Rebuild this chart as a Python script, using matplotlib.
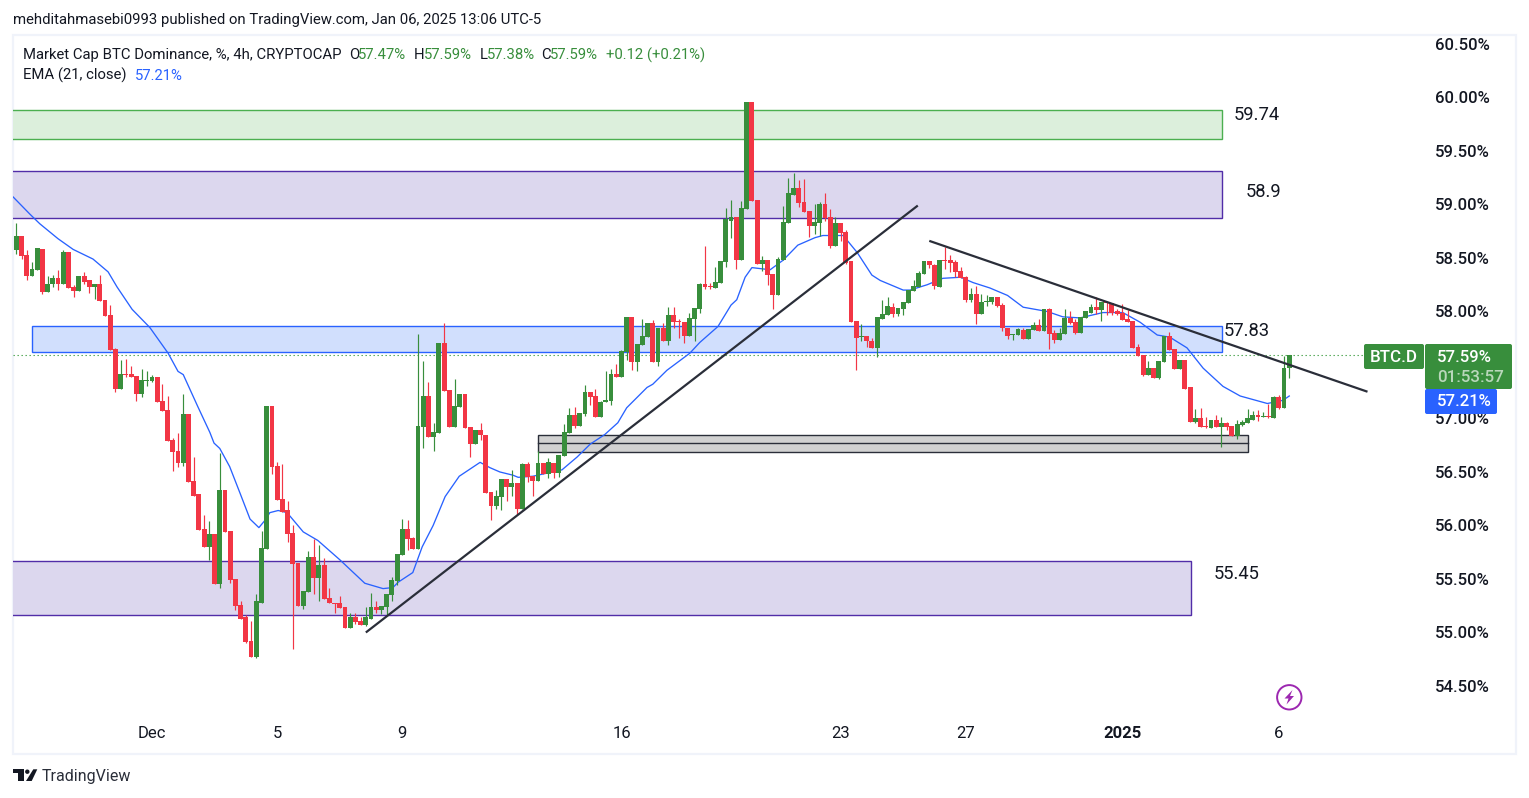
import matplotlib
matplotlib.use("Agg")
import matplotlib.pyplot as plt
from matplotlib.patches import Rectangle, FancyBboxPatch, Polygon, Circle
from matplotlib.transforms import Affine2D

W, H = 1529, 798
plt.rcParams['font.family'] = ['Roboto', 'DejaVu Sans']

opens = [58.57,58.71,58.53,58.33,58.39,58.58,58.18,58.26,58.31,58.26,
58.56,58.23,58.19,58.33,58.29,58.23,58.26,58.11,57.97,57.65,
57.28,57.42,57.42,57.40,57.23,57.35,57.35,57.39,57.16,57.08,
56.80,56.70,56.58,57.04,56.42,56.29,55.97,55.80,55.92,55.45,
56.33,55.95,55.50,55.26,55.14,54.92,54.77,55.28,55.78,57.12,
56.56,56.25,56.14,55.93,55.65,55.25,55.38,55.71,55.51,55.63,
55.32,55.28,55.28,55.24,55.04,55.14,55.11,55.07,55.13,55.24,
55.21,55.24,55.35,55.48,55.72,55.97,55.88,55.78,56.92,57.21,
56.83,56.86,57.71,57.27,56.92,57.11,57.23,56.92,56.76,56.89,
56.85,56.31,56.18,56.27,56.43,56.36,56.40,56.15,56.57,56.46,
56.42,56.58,56.48,56.58,56.49,56.65,56.86,57.03,56.93,57.04,
57.25,57.21,57.01,57.15,57.16,57.42,57.39,57.62,57.95,57.53,
57.69,57.76,57.89,57.53,57.85,57.72,57.97,57.91,57.90,57.77,
57.93,58.02,58.26,58.24,58.22,58.27,58.46,58.85,58.88,58.48,
58.96,59.96,59.04,58.44,58.48,58.35,58.15,58.48,58.83,59.09,
59.15,59.02,58.94,58.80,58.83,59.00,58.88,58.61,58.83,58.74,
58.47,57.91,57.76,57.77,57.72,57.66,57.93,57.97,58.04,57.98,
58.02,58.08,58.19,58.23,58.35,58.47,58.43,58.23,58.48,58.48,
58.46,58.38,58.32,58.11,58.16,57.98,58.09,58.09,58.14,58.06,
57.85,57.78,57.78,57.83,57.74,57.83,57.87,57.82,58.02,57.80,
57.73,57.79,57.94,57.90,57.80,57.94,57.99,58.04,58.01,58.09,
58.08,58.00,57.99,57.93,57.91,57.67,57.59,57.41,57.47,57.38,
57.53,57.77,57.65,57.46,57.55,57.29,56.97,57.00,56.93,56.91,
56.99,56.92,56.96,56.93,56.84,56.94,56.96,56.99,57.03,57.01,
57.02,57.00,57.20,57.10,57.47]
highs = [58.83,58.71,58.57,58.46,58.59,58.58,58.33,58.34,58.39,58.57,
58.56,58.25,58.33,58.37,58.29,58.26,58.34,58.11,58.06,57.66,
57.55,57.56,57.49,57.40,57.46,57.44,57.41,57.39,57.32,57.21,
56.82,56.86,57.23,57.04,56.64,56.29,56.10,56.04,55.92,56.68,
56.33,55.95,55.50,55.29,55.16,55.11,55.36,55.95,57.12,57.12,
56.59,56.57,56.23,56.00,55.65,55.39,55.76,55.87,55.82,55.70,
55.42,55.28,55.34,55.24,55.18,55.18,55.14,55.24,55.37,55.29,
55.25,55.36,55.52,55.73,56.06,56.05,55.89,57.79,57.54,57.34,
56.96,57.71,57.89,57.27,57.37,57.23,57.23,56.92,56.89,56.96,
56.85,56.31,56.33,56.43,56.43,56.52,56.40,56.58,56.59,56.46,
56.70,56.58,56.63,56.58,56.66,56.95,57.10,57.11,57.05,57.31,
57.25,57.28,57.16,57.44,57.46,57.51,57.64,57.95,57.95,57.70,
57.93,57.89,57.92,57.85,57.89,58.04,58.04,57.93,57.90,57.99,
58.03,58.27,58.61,58.27,58.42,58.47,58.97,59.04,58.88,59.03,
59.96,59.96,59.04,58.52,58.48,58.35,58.51,58.99,59.25,59.29,
59.23,59.24,58.94,59.00,59.02,59.11,58.96,58.88,58.83,58.76,
58.47,57.91,57.88,57.77,57.75,57.95,58.11,58.14,58.08,58.03,
58.09,58.20,58.29,58.38,58.47,58.47,58.44,58.48,58.60,58.53,
58.48,58.42,58.33,58.22,58.24,58.16,58.15,58.14,58.14,58.08,
57.85,57.79,57.85,57.85,57.84,57.90,57.93,58.02,58.03,57.83,
57.85,58.02,58.00,57.93,57.95,58.00,58.07,58.14,58.09,58.09,
58.08,58.02,58.07,58.01,57.91,57.70,57.59,57.54,57.47,57.54,
57.77,57.81,57.65,57.55,57.55,57.29,57.09,57.10,57.01,56.99,
57.03,57.01,56.97,56.93,56.99,56.99,57.09,57.07,57.08,57.06,
57.14,57.21,57.22,57.58,57.59]
lows = [58.54,58.49,58.29,58.33,58.39,58.16,58.18,58.23,58.20,58.26,
58.22,58.14,58.19,58.26,58.17,58.12,58.10,57.96,57.64,57.25,
57.28,57.39,57.39,57.16,57.20,57.30,57.34,57.15,57.07,56.79,
56.51,56.55,56.56,56.41,56.28,55.96,55.80,55.68,55.45,55.42,
55.94,55.46,55.21,55.13,54.90,54.77,54.76,55.28,55.78,56.48,
56.24,56.13,55.85,54.85,55.25,55.22,55.38,55.36,55.29,55.31,
55.28,55.18,55.23,55.04,55.04,55.08,55.07,55.06,55.13,55.18,
55.17,55.16,55.29,55.44,55.72,55.77,55.78,55.78,56.72,56.83,
56.70,56.86,57.26,56.92,56.92,57.11,56.91,56.64,56.76,56.80,
56.30,56.05,56.15,56.14,56.23,56.28,56.10,56.15,56.41,56.28,
56.42,56.48,56.44,56.44,56.45,56.65,56.86,56.91,56.93,57.02,
57.13,57.01,57.01,57.15,57.13,57.39,57.39,57.55,57.45,57.44,
57.69,57.76,57.53,57.49,57.72,57.69,57.85,57.75,57.71,57.77,
57.72,57.99,58.21,58.21,58.22,58.27,58.42,58.69,58.40,58.48,
58.96,59.03,58.44,58.38,58.25,58.02,58.15,58.48,58.83,59.09,
58.98,58.93,58.70,58.72,58.71,58.85,58.59,58.61,58.66,58.44,
57.90,57.45,57.72,57.67,57.66,57.57,57.93,57.97,57.95,57.96,
57.97,58.08,58.19,58.23,58.35,58.41,58.21,58.23,58.40,58.37,
58.32,58.31,58.09,58.09,57.88,57.98,58.05,58.07,58.04,57.82,
57.74,57.73,57.78,57.74,57.74,57.83,57.82,57.82,57.65,57.71,
57.73,57.79,57.88,57.79,57.80,57.94,57.99,57.98,57.91,57.97,
57.97,57.97,57.92,57.90,57.66,57.58,57.40,57.41,57.38,57.37,
57.53,57.64,57.46,57.46,57.28,56.97,56.96,56.92,56.91,56.91,
56.92,56.73,56.89,56.84,56.81,56.93,56.96,56.99,56.98,57.01,
57.00,57.00,57.09,57.10,57.38]
closes = [58.71,58.52,58.33,58.40,58.59,58.18,58.26,58.31,58.26,58.56,
58.22,58.19,58.33,58.28,58.23,58.26,58.10,57.96,57.64,57.28,
57.42,57.41,57.39,57.23,57.36,57.36,57.39,57.15,57.07,56.79,
56.69,56.58,57.04,56.41,56.28,55.96,55.80,55.92,55.45,56.33,
55.94,55.49,55.25,55.13,54.91,54.77,55.29,55.79,57.12,56.55,
56.24,56.13,55.92,55.64,55.25,55.39,55.71,55.51,55.63,55.31,
55.28,55.27,55.23,55.04,55.14,55.10,55.07,55.14,55.24,55.21,
55.25,55.36,55.49,55.73,55.97,55.87,55.78,56.93,57.21,56.83,
56.87,57.71,57.26,56.92,57.12,57.23,56.91,56.76,56.89,56.85,
56.30,56.18,56.28,56.43,56.36,56.40,56.15,56.57,56.45,56.42,
56.58,56.48,56.59,56.49,56.66,56.87,57.03,56.93,57.05,57.25,
57.20,57.01,57.15,57.17,57.42,57.39,57.63,57.95,57.53,57.70,
57.77,57.89,57.53,57.85,57.72,57.97,57.90,57.90,57.77,57.94,
58.03,58.26,58.23,58.23,58.28,58.47,58.86,58.88,58.48,58.97,
59.96,59.03,58.44,58.48,58.34,58.15,58.49,58.84,59.11,59.15,
59.01,58.93,58.80,58.84,59.00,58.87,58.61,58.83,58.73,58.45,
57.90,57.75,57.77,57.72,57.66,57.95,57.98,58.05,57.98,58.03,
58.09,58.20,58.24,58.36,58.47,58.43,58.24,58.48,58.47,58.45,
58.37,58.31,58.11,58.16,57.98,58.09,58.10,58.14,58.05,57.85,
57.77,57.79,57.84,57.74,57.84,57.87,57.82,58.02,57.79,57.73,
57.80,57.94,57.89,57.80,57.95,58.00,58.04,58.01,58.09,58.08,
57.99,57.98,57.92,57.90,57.66,57.58,57.41,57.47,57.38,57.54,
57.77,57.64,57.46,57.55,57.28,56.97,57.00,56.92,56.92,56.99,
56.92,56.96,56.92,56.84,56.95,56.97,57.00,57.03,57.01,57.02,
57.01,57.20,57.10,57.47,57.59]

ema_idx = [-0.6,0,2.6,4.5,8,10.9,14.7,17.6,19.3,22.2,25.6,29.1,31,32,34.8,37.1,37.9,39,40.9,42.9,44.8,46.5,
47.7,48.6,50.2,51.9,55,57.8,62,66.8,70.3,72.2,73.2,76,77.8,79.9,82.2,84.9,88.9,90.8,92.7,95.2,96.2,99,
104.6,107.5,110,112.8,115.3,117,120.9,122,124.7,129.1,131,134.5,137,138.1,139.7,141,144.5,147,149.8,153.1,
154.6,158.5,161.2,164,165.6,170,171.3,174.6,177.6,181,183.4,186.6,190,193,197.6,200.6,203.9,208.3,212.1,
215.4,218.7,221.1,224.4,227.5,231.3,234.6,239.8,242.8,244]
ema_val = [59.07,59.04,58.91,58.82,58.68,58.58,58.49,58.37,58.23,58.02,57.85,57.61,57.44,57.41,57.11,56.87,56.77,56.72,56.55,56.30,56.06,55.98,
56.05,56.12,56.14,56.12,55.94,55.86,55.68,55.46,55.41,55.42,55.47,55.56,55.80,56.00,56.27,56.46,56.59,56.54,56.50,56.47,56.45,56.46,
56.52,56.64,56.76,56.85,56.96,57.10,57.29,57.32,57.45,57.61,57.71,57.86,58.06,58.11,58.32,58.41,58.39,58.48,58.62,58.69,
58.71,58.71,58.55,58.34,58.29,58.20,58.20,58.25,58.31,58.32,58.27,58.22,58.15,58.04,58.00,57.95,57.94,57.99,57.99,
57.90,57.78,57.76,57.66,57.47,57.30,57.21,57.14,57.17,57.21]

y_ticks = [54.5,55.0,55.5,56.0,56.5,57.0,58.0,58.5,59.0,59.5,60.0,60.5]
x_tick_idx = [26,50,74,116,158,182,212,242]
x_tick_labels = ["Dec","5","9","16","23","27","2025","6"]

zone_green = (-5, 231.1, 59.88, 59.61)
zone_purple_top = (-5, 231.1, 59.31, 58.87)
zone_blue = (3.0, 231.1, 57.86, 57.62)
zone_gray = (100.0, 236.1, 56.85, 56.69)
zone_gray_mid = 56.77
zone_purple_low = (-5, 225.2, 55.67, 55.16)
trend_up = ([67.0, 172.8], [55.00, 58.99])
trend_down = ([175.0, 259.0], [58.66, 57.25])
last_price = 57.59

GREEN = '#388e3c'
RED = '#f23645'
INK = '#131722'
BLUE = '#2962ff'
PURPLE = '#512da8'
DARK = '#2a2e39'

fig = plt.figure(figsize=(W/100, H/100), dpi=100, facecolor='white')
PX = Affine2D().scale(1, -1).translate(0, H)

fig.add_artist(Rectangle((12.5, 34.5), 1503.5, 719.5, transform=PX, fill=False,
                         edgecolor='#f0f3fa', linewidth=1.6, zorder=0))

L, R, T, B = 13, 1424, 35, 720
ax = fig.add_axes([L/W, 1-B/H, (R-L)/W, (B-T)/H], facecolor='none', zorder=1)
ax.set_xlim(-0.633, 269.83)
ax.set_ylim(54.182, 60.584)
for s in ax.spines.values():
    s.set_visible(False)

def zone(z, fc, ec, zo=1):
    x0, x1, top, bot = z
    ax.add_patch(Rectangle((x0, bot), x1-x0, top-bot, facecolor=fc, edgecolor=ec, linewidth=1.0, zorder=zo))

zone(zone_green, '#dcefdc', '#4caf50')
zone(zone_purple_top, '#dcd7ee', PURPLE)
zone(zone_purple_low, '#dcd7ee', PURPLE)
zone(zone_blue, '#d1dffd', BLUE)
zone(zone_gray, '#d1d1d1', DARK)
ax.plot([zone_gray[0], zone_gray[1]], [zone_gray_mid]*2, color=DARK, lw=1.0, zorder=1.1)

ax.axhline(last_price, color='#43a047', lw=0.8, ls=(0, (1.2, 2.4)), zorder=1.5)

ax.plot(ema_idx, ema_val, color=BLUE, lw=0.95, zorder=2.5)

idx = list(range(len(closes)))
cols = [GREEN if c >= o else RED for o, c in zip(opens, closes)]
ax.vlines(idx, lows, highs, colors=cols, linewidth=0.85, zorder=3)
px_h = (60.584-54.182)/(B-T)
bots = [min(o, c) for o, c in zip(opens, closes)]
hts = [max(abs(c-o), px_h) for o, c in zip(opens, closes)]
ax.bar(idx, hts, bottom=bots, width=0.93, color=cols, linewidth=0, zorder=3.1)

ax.plot(*trend_up, color=DARK, lw=1.6, zorder=4, solid_capstyle='butt')
ax.plot(*trend_down, color=DARK, lw=1.6, zorder=4, solid_capstyle='butt')

for x, y, s in [(233.4, 59.84, "59.74"), (235.6, 59.12, "58.9"), (231.5, 57.82, "57.83"), (229.6, 55.55, "55.45")]:
    ax.text(x, y, s, fontsize=13.2, color=INK, va='center', ha='left', zorder=5)

ax.yaxis.tick_right()
ax.set_yticks(y_ticks)
ax.set_yticklabels([f"{v:.2f}%" for v in y_ticks], fontsize=12.0, color=INK, fontweight='medium')
ax.tick_params(axis='y', length=0, pad=8)
ax.set_xticks(x_tick_idx)
ax.set_xticklabels(x_tick_labels, fontsize=12.0, color=INK)
ax.tick_params(axis='x', length=0, pad=4.2)
for t, s in zip(ax.get_xticklabels(), x_tick_labels):
    if s == "2025":
        t.set_fontweight('bold')

def ptext(x, y, s, color=INK, size=10.0, weight='normal', ha='left', alpha=None, zo=8):
    fig.text(x, y, s, transform=PX, color=color, fontsize=size, fontweight=weight, ha=ha, va='center', alpha=alpha, zorder=zo)

ptext(13, 20, "mehditahmasebi0993 published on TradingView.com, Jan 06, 2025 13:06 UTC-5", size=10.75)
ptext(23, 55, "Market Cap BTC Dominance, %, 4h, CRYPTOCAP", size=10.7)
for lx, vx, lab, val in [(349, 358, "O", "57.47%"), (414, 424, "H", "57.59%"), (480, 487, "L", "57.38%"), (541, 550, "C", "57.59%")]:
    ptext(lx, 55, lab, size=10.7)
    ptext(vx, 55, val, size=10.7, color=GREEN)
ptext(606, 55, "+0.12 (+0.21%)", size=10.7, color=GREEN)
ptext(23, 75.5, "EMA (21, close)", size=10.7)
ptext(135, 75.5, "57.21%", size=10.7, color=BLUE)

def box(x0, y0, x1, y1, fc, zo=6):
    fig.add_artist(FancyBboxPatch((x0+1.5, y0+1.5), x1-x0-3, y1-y0-3, boxstyle="round,pad=1.5,rounding_size=2",
                                  transform=PX, facecolor=fc, edgecolor='none', zorder=zo))
box(1364, 344, 1424, 369, GREEN)
box(1425, 344, 1512, 389, GREEN)
box(1425, 389, 1497, 414, BLUE, zo=6.5)
ptext(1394, 357, "BTC.D", color='white', size=12.2, weight='medium', ha='center')
ptext(1437, 357, "57.59%", color='white', size=12.0, weight='medium')
ptext(1437, 377, "01:53:57", color='white', size=12.2, alpha=0.65, weight='medium')
ptext(1437, 402, "57.21%", color='white', size=12.0, weight='medium')

for pts in [[(12.7, 769.3), (24, 769.3), (24, 781), (18.3, 781), (18.3, 773.3), (12.7, 773.3)],
            [(33.3, 769.3), (37.3, 769.3), (31.7, 781), (26, 781)]]:
    fig.add_artist(Polygon(pts, closed=True, transform=PX, facecolor=INK, edgecolor='none', zorder=7))
fig.add_artist(Circle((27.3, 771.7), 2.2, transform=PX, facecolor=INK, edgecolor='none', zorder=7))
ptext(42, 777, "TradingView", size=11.5, color=DARK)

fig.add_artist(Circle((1289.3, 697.3), 12.2, transform=PX, facecolor='white', edgecolor='#9c27b0', linewidth=1.4, zorder=7))
fig.add_artist(Polygon([(1292.5, 690), (1284.5, 698.5), (1288.5, 698.5), (1286.5, 704.5), (1294, 696), (1290, 696)],
                       closed=True, transform=PX, facecolor='#9c27b0', edgecolor='none', zorder=7.1))

fig.savefig("out.png", dpi=100)
